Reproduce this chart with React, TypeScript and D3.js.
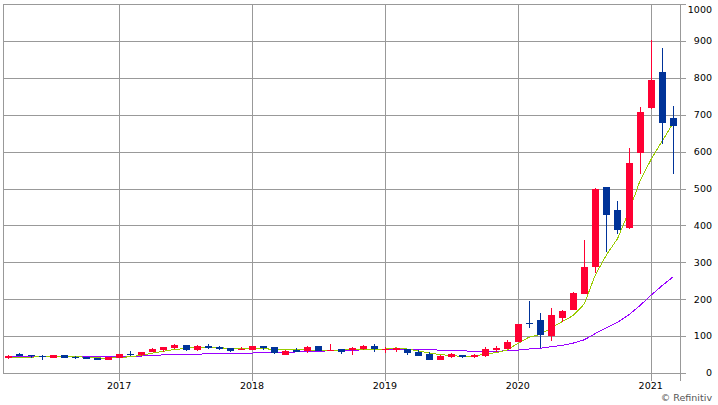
import React from "react";
import * as d3 from "d3";

const months = [
  "2016-03","2016-04","2016-05","2016-06","2016-07","2016-08","2016-09","2016-10","2016-11","2016-12",
  "2017-01","2017-02","2017-03","2017-04","2017-05","2017-06","2017-07","2017-08","2017-09","2017-10","2017-11","2017-12",
  "2018-01","2018-02","2018-03","2018-04","2018-05","2018-06","2018-07","2018-08","2018-09","2018-10","2018-11","2018-12",
  "2019-01","2019-02","2019-03","2019-04","2019-05","2019-06","2019-07","2019-08","2019-09","2019-10","2019-11","2019-12",
  "2020-01","2020-02","2020-03","2020-04","2020-05","2020-06","2020-07","2020-08","2020-09","2020-10","2020-11","2020-12",
  "2021-01","2021-02","2021-03",
];

const openV = [41,51,48,46,42,49,44,43,41,36, 42,52,49,57,62,68,76,63,73,71,68,61, 63,72,70,50,62,60,73,60,64,62,65,74, 63,62,65,57,51,36,44,49,43,46,62,65, 85,136,144,101,150,171,214,288,504,441,394,597, 719,816,692];
const highV = [48,54,48,49,49,49,45,43,41,43, 52,59,58,67,71,79,76,76,79,74,68,71, 73,74,70,61,67,74,73,78,64,70,75,79, 71,68,66,61,56,50,54,50,51,70,74,89, 133,196,162,176,172,220,360,501,505,466,609,720, 902,880,724];
const lowV = [38,46,41,36,41,41,38,39,35,36, 41,45,46,56,57,64,60,60,65,63,57,61, 63,63,51,50,57,55,60,60,51,49,63,57, 55,58,50,46,36,35,41,40,41,43,58,64, 84,122,67,88,137,170,213,272,328,377,391,539, 715,620,539];
const closeV = [46,47,45,43,48,42,42,39,36,43, 51,51,58,66,70,75,63,74,68,66,60,64, 73,68,54,60,58,71,60,63,56,68,72,65, 66,67,55,47,36,46,51,43,49,65,68,84, 133,134,103,157,168,217,288,499,428,388,570,707, 794,677,669];

const ma5 = [43,43,43,44,46,45,44,43,41,40, 42,44,48,54,59,64,66,70,70,69,66,66, 66,66,64,64,63,62,61,62,62,64,64,65, 65,68,65,60,54,50,47,45,45,51,55,62, 80,97,104,122,139,156,187,266,320,364,435,518, 577,627,676];
const ma24 = [46,46,46,46,46,46,46,46,46,46, 46,46,46,48,49,49,51,51,52,52,53,54, 54,56,56,56,57,58,59,60,60,61,63,64, 64,65,65,64,63,62,61,60,59,59,59,60, 62,65,67,71,75,81,90,107,123,137,157,182, 210,236,260];

const yTicks = [0,100,200,300,400,500,600,700,800,900,1000];

const W = 718, H = 405;
const left = 2.5, right = 679.5, top = 4, bottom = 373;

export default function App() {
  const n = months.length;
  const x = d3.scaleLinear().domain([-0.53, n - 0.4]).range([left, right]);
  const y = d3.scaleLinear().domain([0, 1000]).range([bottom, top]);
  const idx = d3.range(n);
  const yearIdx = idx.filter((i) => months[i].endsWith("-01"));

  const line = (vals: number[]) =>
    d3.line<number>().x((i) => x(i)).y((i) => y(vals[i]))(idx) || "";

  const grid = "#999999";
  const up = "#ff0033";
  const down = "#003399";
  const bw = 7;

  return (
    <svg width={W} height={H} style={{ position: "absolute", left: 0, top: 0, background: "#fff" }}
      fontFamily="'DejaVu Sans', Verdana, sans-serif">
      <g shapeRendering="crispEdges" stroke={grid} strokeWidth={1}>
        {yTicks.map((v) => (
          <line key={"h" + v} x1={left} x2={right + 6} y1={Math.round(y(v)) + 0.5} y2={Math.round(y(v)) + 0.5} />
        ))}
        {yearIdx.map((i) => (
          <line key={"v" + i} x1={Math.round(x(i)) + 0.5} x2={Math.round(x(i)) + 0.5} y1={top} y2={bottom + 8} />
        ))}
        <line x1={left + 0.5} x2={left + 0.5} y1={top} y2={bottom} />
        <line x1={right + 0.5} x2={right + 0.5} y1={top} y2={bottom + 8} />
      </g>
      <path d={line(ma24)} fill="none" stroke="#9900ff" strokeWidth={1} shapeRendering="crispEdges" />
      <path d={line(ma5)} fill="none" stroke="#99cc00" strokeWidth={1} shapeRendering="crispEdges" />
      <g shapeRendering="crispEdges">
        {idx.map((i) => {
          const o = openV[i], c = closeV[i];
          const col = c >= o ? up : down;
          const cx = Math.round(x(i));
          const yt = y(Math.max(o, c));
          const yb = y(Math.min(o, c));
          return (
            <g key={"c" + i}>
              <line x1={cx + 0.5} x2={cx + 0.5} y1={y(highV[i])} y2={y(lowV[i])} stroke={col} strokeWidth={1} />
              <rect x={cx - 3} y={yt} width={bw} height={Math.max(1, yb - yt)} fill={col} />
            </g>
          );
        })}
      </g>
      <g fontSize={9.5} fill="#000" textAnchor="end">
        {yTicks.map((v) => (
          <text key={"t" + v} x={712} y={Math.max(y(v), 10)} dy="0.35em">{v}</text>
        ))}
      </g>
      <g fontSize={9.5} fill="#000" textAnchor="middle">
        {yearIdx.map((i) => (
          <text key={"yl" + i} x={x(i)} y={386} dy="0.35em">{months[i].slice(0, 4)}</text>
        ))}
      </g>
      <text x={712} y={398} dy="0.35em" fontSize={9.5} fill="#555" textAnchor="end">© Refinitiv</text>
    </svg>
  );
}
